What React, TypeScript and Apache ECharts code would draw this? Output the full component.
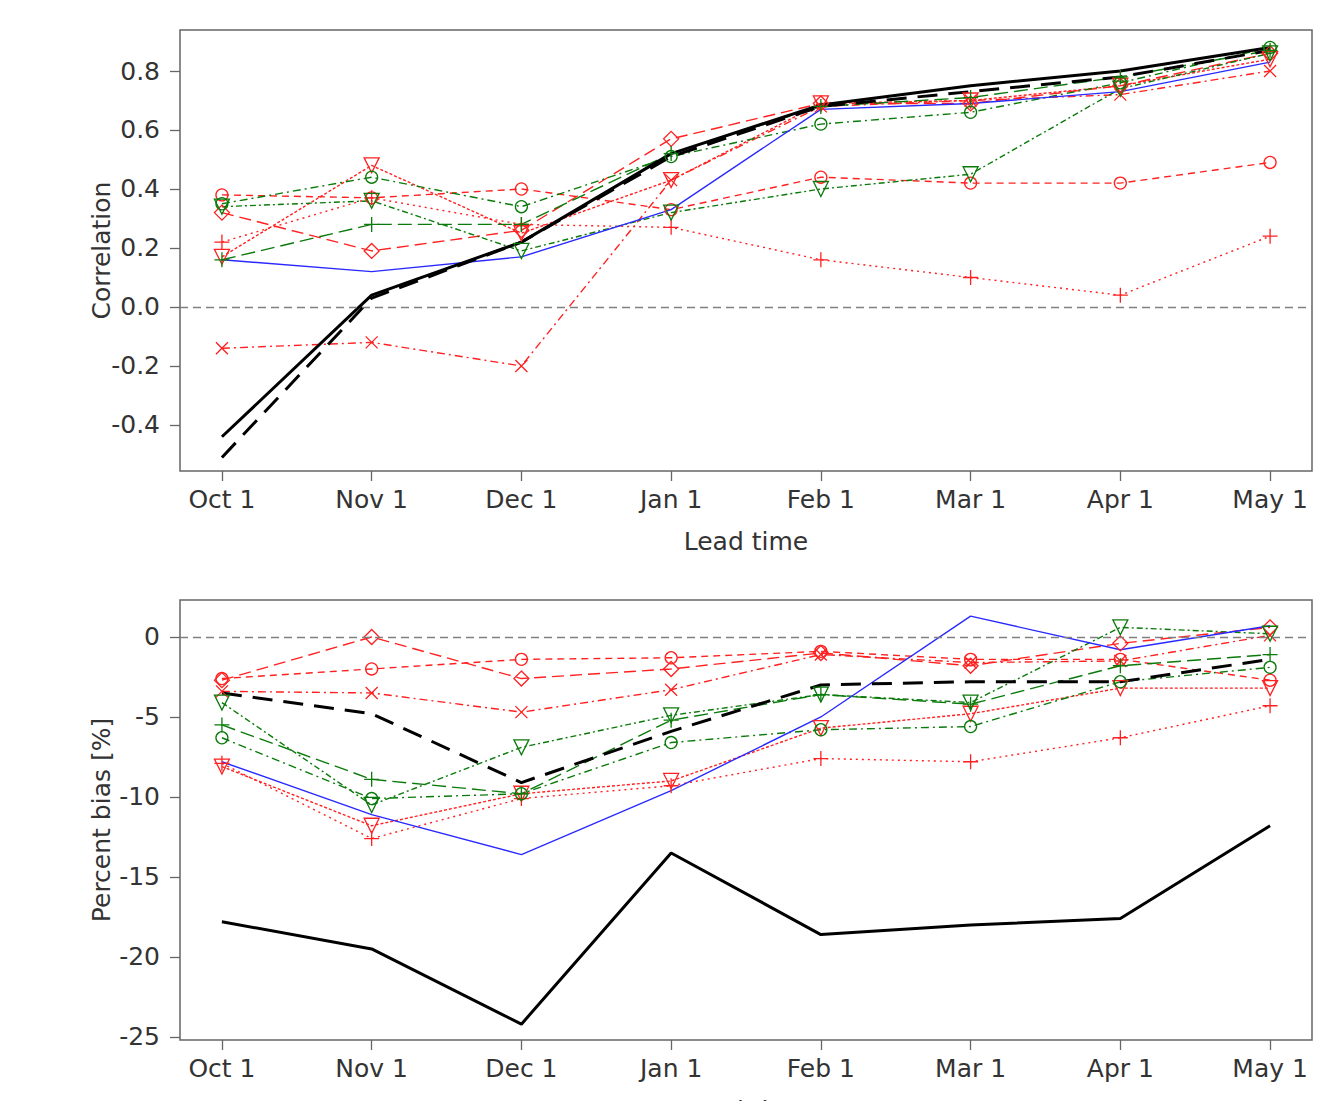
import React, { useEffect, useRef } from "react";
import * as echarts from "echarts";

const months = ["Oct 1", "Nov 1", "Dec 1", "Jan 1", "Feb 1", "Mar 1", "Apr 1", "May 1"];
const corTicks = [-0.4, -0.2, 0, 0.2, 0.4, 0.6, 0.8];
const biasTicks = [-25, -20, -15, -10, -5, 0];

// Correlation (top panel)
const corBlackSolid = [-0.44, 0.04, 0.22, 0.52, 0.685, 0.75, 0.8, 0.88];
const corBlackDashed = [-0.51, 0.03, 0.22, 0.51, 0.68, 0.73, 0.78, 0.87];
const corBlue = [0.16, 0.12, 0.17, 0.33, 0.67, 0.69, 0.73, 0.83];
const corRedCircle = [0.38, 0.37, 0.4, 0.33, 0.44, 0.42, 0.42, 0.49];
const corRedDiamond = [0.32, 0.19, 0.26, 0.57, 0.69, 0.69, 0.75, 0.86];
const corRedTri = [0.17, 0.48, 0.25, 0.43, 0.69, 0.7, 0.75, 0.84];
const corRedPlus = [0.22, 0.37, 0.28, 0.27, 0.16, 0.1, 0.04, 0.24];
const corRedX = [-0.14, -0.12, -0.2, 0.43, 0.68, 0.7, 0.72, 0.8];
const corGreenCircle = [0.35, 0.44, 0.34, 0.51, 0.62, 0.66, 0.76, 0.88];
const corGreenTri = [0.34, 0.36, 0.19, 0.32, 0.4, 0.45, 0.74, 0.86];
const corGreenPlus = [0.16, 0.28, 0.28, 0.52, 0.68, 0.71, 0.78, 0.87];

// Percent bias (bottom panel)
const biasBlackSolid = [-17.8, -19.5, -24.2, -13.5, -18.6, -18.0, -17.6, -11.8];
const biasBlackDashed = [-3.5, -4.8, -9.1, -5.9, -3.0, -2.8, -2.8, -1.4];
const biasBlue = [-7.8, -11.1, -13.6, -9.6, -5.0, 1.3, -0.8, 0.7];
const biasRedCircle = [-2.6, -2.0, -1.4, -1.3, -0.9, -1.4, -1.4, -2.7];
const biasRedDiamond = [-2.7, 0.0, -2.6, -2.0, -1.0, -1.8, -0.4, 0.6];
const biasRedTri = [-8.1, -11.8, -9.8, -9.0, -5.7, -4.8, -3.2, -3.2];
const biasRedPlus = [-7.9, -12.6, -10.1, -9.3, -7.6, -7.8, -6.3, -4.3];
const biasRedX = [-3.4, -3.5, -4.7, -3.3, -1.1, -1.6, -1.5, 0.1];
const biasGreenCircle = [-6.3, -10.1, -9.8, -6.6, -5.8, -5.6, -2.8, -1.9];
const biasGreenTri = [-4.1, -10.5, -6.9, -4.9, -3.6, -4.1, 0.6, 0.2];
const biasGreenPlus = [-5.5, -8.9, -9.8, -5.2, -3.6, -4.2, -1.8, -1.1];

const RED = "#ff2020";
const GREEN = "#0a7a0a";
const BLUE = "#2a2aff";
const BLACK = "#000000";

const SYM_TRI_DOWN = "path://M0,0L10,0L5,8.7Z";
const SYM_PLUS = "path://M5,0L5,10M0,5L10,5";
const SYM_X = "path://M0,0L10,10M10,0L0,10";
const SYM_DIAMOND = "path://M5,0L10,5L5,10L0,5Z";

const FONT = "DejaVu Sans";
const TXT = "#333333";

type Spec = {
  name: string;
  values: number[];
  color: string;
  width: number;
  dash: number[] | "solid";
  symbol?: string;
  symbolSize?: number;
};

function makeSeries(spec: Spec, idx: number, extra: any = {}) {
  return {
    type: "line",
    name: spec.name,
    xAxisIndex: idx,
    yAxisIndex: idx,
    data: spec.values.map((v, i) => [i, v]),
    showSymbol: !!spec.symbol,
    symbol: spec.symbol || "none",
    symbolSize: spec.symbolSize || 12,
    lineStyle: { color: spec.color, width: spec.width, type: spec.dash },
    itemStyle: { color: "rgba(0,0,0,0)", borderColor: spec.color, borderWidth: 1.3, borderType: "solid" },
    emphasis: { disabled: true },
    silent: true,
    ...extra,
  };
}

function specs(p: {
  blackSolid: number[]; blackDashed: number[]; blue: number[];
  redCircle: number[]; redDiamond: number[]; redTri: number[]; redPlus: number[]; redX: number[];
  greenCircle: number[]; greenTri: number[]; greenPlus: number[];
}): Spec[] {
  return [
    { name: "Red circle", values: p.redCircle, color: RED, width: 1.4, dash: [7, 5], symbol: "circle", symbolSize: 12 },
    { name: "Red diamond", values: p.redDiamond, color: RED, width: 1.4, dash: [12, 6], symbol: SYM_DIAMOND, symbolSize: 15 },
    { name: "Red triangle", values: p.redTri, color: RED, width: 1.4, dash: [3, 2], symbol: SYM_TRI_DOWN, symbolSize: 15 },
    { name: "Red plus", values: p.redPlus, color: RED, width: 1.4, dash: [2, 4], symbol: SYM_PLUS, symbolSize: 15 },
    { name: "Red cross", values: p.redX, color: RED, width: 1.4, dash: [8, 4, 2, 4], symbol: SYM_X, symbolSize: 12 },
    { name: "Green circle", values: p.greenCircle, color: GREEN, width: 1.4, dash: [8, 4, 2, 4], symbol: "circle", symbolSize: 12 },
    { name: "Green triangle", values: p.greenTri, color: GREEN, width: 1.4, dash: [6, 3, 2, 3], symbol: SYM_TRI_DOWN, symbolSize: 15 },
    { name: "Green plus", values: p.greenPlus, color: GREEN, width: 1.4, dash: [14, 6], symbol: SYM_PLUS, symbolSize: 15 },
    { name: "Blue", values: p.blue, color: BLUE, width: 1.4, dash: "solid" },
    { name: "Black dashed", values: p.blackDashed, color: BLACK, width: 3, dash: [20, 11] },
    { name: "Black solid", values: p.blackSolid, color: BLACK, width: 3, dash: "solid" },
  ];
}

const zeroLine = {
  silent: true,
  symbol: ["none", "none"],
  label: { show: false },
  lineStyle: { color: "#808080", type: [8, 5], width: 1.3 },
  data: [{ yAxis: 0 }],
};

function xAxisDef(gridIndex: number) {
  return {
    type: "value",
    gridIndex,
    min: -0.28,
    max: 7.28,
    name: "Lead time",
    nameLocation: "middle",
    nameGap: 58,
    nameMoveOverlap: false,
    nameTextStyle: { fontSize: 25, fontFamily: FONT, color: TXT },
    axisLine: { show: false, onZero: false },
    splitLine: { show: false },
    axisTick: { show: true, length: 10, inside: false, customValues: months.map((_, i) => i), lineStyle: { color: "#666", width: 1.3 } },
    axisLabel: {
      customValues: months.map((_, i) => i),
      formatter: (v: number) => months[Math.round(v)],
      fontSize: 25,
      fontFamily: FONT,
      color: TXT,
      margin: 16,
    },
  };
}

function yAxisDef(gridIndex: number, min: number, max: number, ticks: number[], name: string, digits: number) {
  return {
    type: "value",
    gridIndex,
    min,
    max,
    name,
    nameLocation: "middle",
    nameGap: 66,
    nameRotate: 90,
    nameMoveOverlap: false,
    nameTextStyle: { fontSize: 25, fontFamily: FONT, color: TXT },
    axisLine: { show: false, onZero: false },
    splitLine: { show: false },
    axisTick: { show: true, length: 10, inside: false, customValues: ticks, lineStyle: { color: "#666", width: 1.3 } },
    axisLabel: {
      customValues: ticks,
      formatter: (v: number) => v.toFixed(digits),
      fontSize: 25,
      fontFamily: FONT,
      color: TXT,
      margin: 20,
    },
  };
}

export default function App() {
  const ref = useRef<HTMLDivElement>(null);
  useEffect(() => {
    if (!ref.current) return;
    const chart = echarts.init(ref.current, null, { renderer: "svg" });
    const top = specs({
      blackSolid: corBlackSolid, blackDashed: corBlackDashed, blue: corBlue,
      redCircle: corRedCircle, redDiamond: corRedDiamond, redTri: corRedTri, redPlus: corRedPlus, redX: corRedX,
      greenCircle: corGreenCircle, greenTri: corGreenTri, greenPlus: corGreenPlus,
    });
    const bottom = specs({
      blackSolid: biasBlackSolid, blackDashed: biasBlackDashed, blue: biasBlue,
      redCircle: biasRedCircle, redDiamond: biasRedDiamond, redTri: biasRedTri, redPlus: biasRedPlus, redX: biasRedX,
      greenCircle: biasGreenCircle, greenTri: biasGreenTri, greenPlus: biasGreenPlus,
    });
    const series: any[] = [];
    top.forEach((s, i) => series.push(makeSeries(s, 0, i === 0 ? { markLine: zeroLine } : {})));
    bottom.forEach((s, i) => series.push(makeSeries(s, 1, i === 0 ? { markLine: zeroLine } : {})));

    chart.setOption({
      animation: false,
      backgroundColor: "#ffffff",
      textStyle: { fontFamily: FONT },
      grid: [
        { left: 180, top: 30, width: 1132, height: 441, show: true, borderColor: "#666", borderWidth: 1.5, backgroundColor: "rgba(0,0,0,0)", containLabel: false, outerBoundsMode: "none" },
        { left: 180, top: 600, width: 1132, height: 440, show: true, borderColor: "#666", borderWidth: 1.5, backgroundColor: "rgba(0,0,0,0)", containLabel: false, outerBoundsMode: "none" },
      ],
      xAxis: [xAxisDef(0), xAxisDef(1)],
      yAxis: [
        yAxisDef(0, -0.556, 0.939, corTicks, "Correlation", 1),
        yAxisDef(1, -25.19, 2.31, biasTicks, "Percent bias [%]", 0),
      ],
      series,
    });
    return () => chart.dispose();
  }, []);
  return (
    <div
      ref={ref}
      style={{ position: "absolute", left: 0, top: 0, width: 1325, height: 1101, background: "#fff" }}
    />
  );
}
